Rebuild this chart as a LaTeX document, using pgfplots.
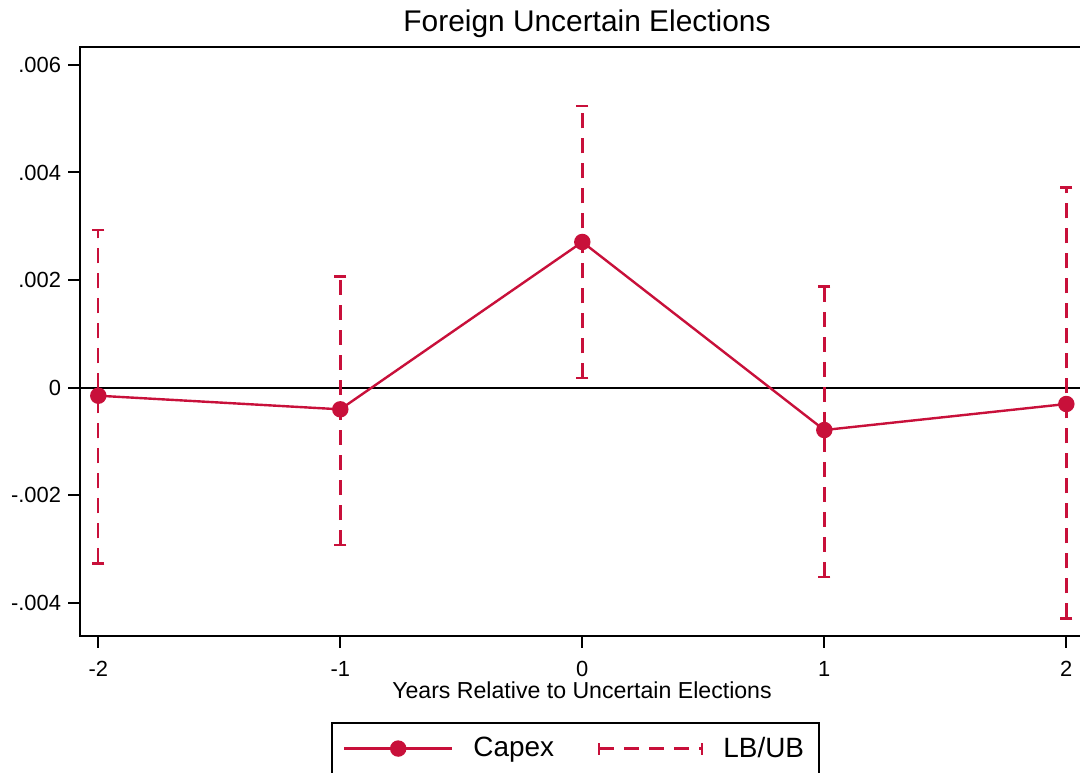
\documentclass[border=0pt]{standalone}
\usepackage{fontspec}
\setmainfont{Liberation Sans}
\usepackage{pgfplots}
\pgfplotsset{compat=1.18}
\definecolor{cranb}{RGB}{200,16,58}

\begin{document}
\begin{tikzpicture}[x=0.5bp,y=0.5bp]
\useasboundingbox (0,0) rectangle (1080,773);
\begin{axis}[
  at={(40bp,68.5bp)}, anchor=south west,
  scale only axis, width=503bp, height=294.65bp,
  xmin=-2.0756, xmax=2.0814, ymin=-0.004619, ymax=0.006340,
  axis line style={line width=1bp, black},
  tick align=outside, xtick pos=bottom, ytick pos=left,
  major tick length=6bp, tick style={black, line width=1bp},
  scaled y ticks=false,
  xtick={-2,-1,0,1,2}, xticklabels={-2,-1,0,1,2},
  ytick={-0.004,-0.002,0,0.002,0.004,0.006},
  yticklabels={-.004,-.002,0,.002,.004,.006},
  ticklabel style={font=\fontsize{11}{13}\selectfont},
  xticklabel style={yshift=-3bp},
  unbounded coords=jump,
  reverse legend,
  legend columns=2,
  legend style={at={(0.2495,-0.1459)}, anchor=north west,
    draw=black, line width=1bp, font=\fontsize{14}{16}\selectfont,
    inner xsep=5.5bp, inner ysep=5bp,
    /tikz/every odd column/.append style={column sep=8bp},
    /tikz/every even column/.append style={column sep=20bp}},
]
% reference line at zero
\addplot[black, line width=1bp, forget plot] coordinates {(-3,0) (3,0)};

% lower / upper bounds of the 95% interval
\addplot[cranb, line width=1.2bp, dash pattern=on 7.5bp off 5bp,
  mark=-, mark size=3bp, mark options={solid, line width=1.2bp},
  legend image code/.code={
    \draw (0bp,0bp) -- (51.5bp,0bp);
    \draw[solid] (0bp,-3bp) -- (0bp,3bp) (51.5bp,-3bp) -- (51.5bp,3bp);}]
coordinates {
  (-2,-0.003268) (-2,0.002931) (-2,nan)
  (-1,-0.002927) (-1,0.002063) (-1,nan)
  (0,0.000173)   (0,0.005232)  (0,nan)
  (1,-0.003517)  (1,0.001877)  (1,nan)
  (2,-0.004291)  (2,0.003718)
};
\addlegendentry{LB/UB\hspace{7bp}}

% point estimates
\addplot[cranb, line width=1.2bp, mark=*, mark size=3.5bp,
  mark options={solid, fill=cranb},
  legend image code/.code={
    \draw[mark repeat=2, mark phase=2] plot coordinates {(0bp,0bp) (27bp,0bp) (54bp,0bp)};}]
coordinates {
  (-2,-0.000151) (-1,-0.000404) (0,0.002708) (1,-0.000789) (2,-0.000305)
};
\addlegendentry{Capex}
\end{axis}

\node[anchor=base, font=\fontsize{15}{18}\selectfont] at (587,741) {Foreign Uncertain Elections};
\node[anchor=base, font=\fontsize{11.6}{14}\selectfont] at (582,74) {Years Relative to Uncertain Elections};
\end{tikzpicture}
\end{document}
